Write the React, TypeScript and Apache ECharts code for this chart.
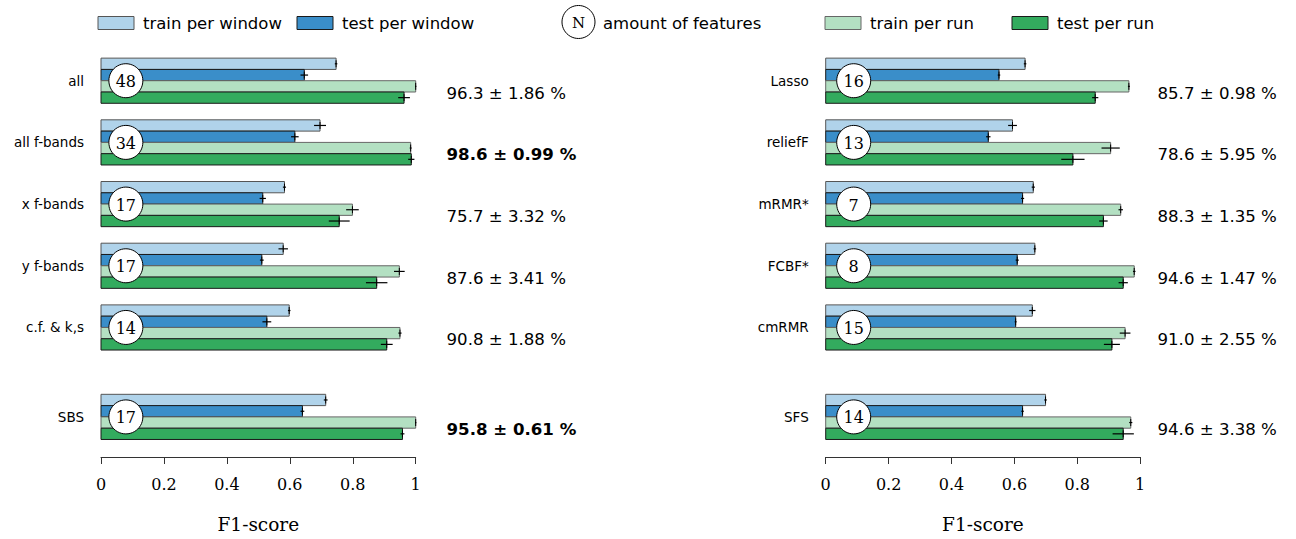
import React, { useEffect, useRef } from "react";
import * as echarts from "echarts";

// ---------- data ----------
const LEFT_CATS = ["all", "all f-bands", "x f-bands", "y f-bands", "c.f. & k,s", "SBS"];
const LEFT_POS = [0, 1, 2, 3, 4, 5.45];
const LEFT_TRAIN_WIN = [0.747, 0.696, 0.583, 0.579, 0.598, 0.714];
const LEFT_TRAIN_WIN_ERR = [0.004, 0.019, 0.005, 0.015, 0.004, 0.006];
const LEFT_TEST_WIN = [0.646, 0.616, 0.514, 0.511, 0.527, 0.64];
const LEFT_TEST_WIN_ERR = [0.012, 0.012, 0.01, 0.006, 0.014, 0.006];
const LEFT_TRAIN_RUN = [1.0, 0.984, 0.799, 0.948, 0.95, 1.0];
const LEFT_TRAIN_RUN_ERR = [0.002, 0.003, 0.02, 0.017, 0.005, 0.002];
const LEFT_TEST_RUN = [0.963, 0.986, 0.757, 0.876, 0.908, 0.958];
const LEFT_TEST_RUN_ERR = [0.0186, 0.0099, 0.0332, 0.0341, 0.0188, 0.0061];
const LEFT_FEATURES = [48, 34, 17, 17, 14, 17];
const LEFT_SCORES = ["96.3 ± 1.86 %", "98.6 ± 0.99 %", "75.7 ± 3.32 %", "87.6 ± 3.41 %", "90.8 ± 1.88 %", "95.8 ± 0.61 %"];
const LEFT_BOLD = [false, true, false, false, false, true];

const RIGHT_CATS = ["Lasso", "reliefF", "mRMR*", "FCBF*", "cmRMR", "SFS"];
const RIGHT_POS = [0, 1, 2, 3, 4, 5.45];
const RIGHT_TRAIN_WIN = [0.634, 0.594, 0.66, 0.665, 0.657, 0.699];
const RIGHT_TRAIN_WIN_ERR = [0.004, 0.014, 0.005, 0.004, 0.01, 0.004];
const RIGHT_TEST_WIN = [0.551, 0.517, 0.626, 0.609, 0.604, 0.626];
const RIGHT_TEST_WIN_ERR = [0.004, 0.007, 0.005, 0.005, 0.003, 0.004];
const RIGHT_TRAIN_RUN = [0.964, 0.906, 0.938, 0.981, 0.952, 0.97];
const RIGHT_TRAIN_RUN_ERR = [0.003, 0.029, 0.007, 0.004, 0.017, 0.005];
const RIGHT_TEST_RUN = [0.857, 0.786, 0.883, 0.946, 0.91, 0.946];
const RIGHT_TEST_RUN_ERR = [0.0098, 0.037, 0.0135, 0.0147, 0.0255, 0.0338];
const RIGHT_FEATURES = [16, 13, 7, 8, 15, 14];
const RIGHT_SCORES = ["85.7 ± 0.98 %", "78.6 ± 5.95 %", "88.3 ± 1.35 %", "94.6 ± 1.47 %", "91.0 ± 2.55 %", "94.6 ± 3.38 %"];
const RIGHT_BOLD = [false, false, false, false, false, false];

const LEGEND_NAMES = ["train per window", "test per window", "amount of features", "train per run", "test per run"];
const X_TICKS = [0, 0.2, 0.4, 0.6, 0.8, 1];

// ---------- styles ----------
const FILLS = ["#b0d3ea", "#3a8ec9", "#b3e0c2", "#33ab5e"];
const STROKES = ["#555555", "#1a1a1a", "#666666", "#1a1a1a"];
const SANS = "DejaVu Sans";
const SERIF = "DejaVu Serif";
const BAR_UNITS = 0.183;

function buildData(pos, tw, twe, ts, tse, tr, tre, te, tee) {
  return pos.map((p, i) => [p, tw[i], twe[i], ts[i], tse[i], tr[i], tre[i], te[i], tee[i]]);
}

function makeRender(cats, feats, scores, bold, circleX, scoreX) {
  return (params, api) => {
    const i = params.dataIndex;
    const pos = api.value(0);
    const vals = [api.value(1), api.value(3), api.value(5), api.value(7)];
    const errs = [api.value(2), api.value(4), api.value(6), api.value(8)];
    const origin = api.coord([0, pos]);
    const unit = api.size([0, 1])[1];
    const bh = unit * BAR_UNITS;
    const children = [];
    for (let k = 0; k < 4; k++) {
      const yc = origin[1] + (k - 1.5) * bh;
      const end = api.coord([vals[k], pos])[0];
      children.push({
        type: "rect",
        shape: { x: origin[0], y: yc - bh / 2, width: end - origin[0], height: bh },
        style: { fill: FILLS[k], stroke: STROKES[k], lineWidth: 1 },
      });
    }
    for (let k = 0; k < 4; k++) {
      const yc = origin[1] + (k - 1.5) * bh;
      const end = api.coord([vals[k], pos])[0];
      const a = api.coord([vals[k] - errs[k], pos])[0];
      const b = api.coord([vals[k] + errs[k], pos])[0];
      children.push({
        type: "line",
        shape: { x1: a, y1: yc, x2: b, y2: yc },
        style: { stroke: "#000", lineWidth: 1.2 },
      });
      children.push({
        type: "line",
        shape: { x1: end, y1: yc - 3.5, x2: end, y2: yc + 3.5 },
        style: { stroke: "#000", lineWidth: 1 },
      });
    }
    const cx = api.coord([circleX, pos])[0];
    children.push({
      type: "circle",
      shape: { cx: cx, cy: origin[1], r: 17 },
      style: { fill: "#fff", stroke: "#000", lineWidth: 1 },
    });
    children.push({
      type: "text",
      x: cx,
      y: origin[1] + 1,
      style: {
        text: String(feats[i]),
        align: "center",
        verticalAlign: "middle",
        fontFamily: SERIF,
        fontSize: 16,
        fill: "#000",
      },
    });
    children.push({
      type: "text",
      x: origin[0] - 17,
      y: origin[1],
      style: {
        text: cats[i],
        align: "right",
        verticalAlign: "middle",
        fontFamily: SANS,
        fontSize: 13.5,
        fill: "#000",
      },
    });
    children.push({
      type: "text",
      x: api.coord([scoreX, pos])[0],
      y: origin[1] + 0.2 * unit,
      style: {
        text: scores[i],
        align: "left",
        verticalAlign: "middle",
        fontFamily: SANS,
        fontSize: 16.6,
        fontWeight: bold[i] ? "bold" : "normal",
        fill: "#000",
      },
    });
    return { type: "group", children };
  };
}

function xAxisCfg(gridIndex) {
  return {
    type: "value",
    gridIndex,
    min: 0,
    max: 1,
    interval: 0.2,
    axisLine: { show: true, onZero: false, lineStyle: { color: "#333", width: 1 } },
    axisTick: { show: true, length: 7, lineStyle: { color: "#333" } },
    splitLine: { show: false },
    axisLabel: {
      fontFamily: SERIF,
      fontSize: 16,
      color: "#000",
      margin: 19,
      formatter: (v) => String(X_TICKS.find((t) => Math.abs(t - v) < 1e-9) ?? v),
    },
    name: "F1-score",
    nameLocation: "middle",
    nameGap: 58,
    nameTextStyle: { fontFamily: SERIF, fontSize: 18.5, color: "#000" },
  };
}

function yAxisCfg(gridIndex) {
  return { type: "value", gridIndex, inverse: true, min: -0.6, max: 6.1, show: false };
}

function legendGraphics() {
  const items = [];
  const sw = [
    { x: 98, fill: FILLS[0], stroke: STROKES[0], name: LEGEND_NAMES[0] },
    { x: 297, fill: FILLS[1], stroke: STROKES[1], name: LEGEND_NAMES[1] },
    { x: 825, fill: FILLS[2], stroke: STROKES[2], name: LEGEND_NAMES[3] },
    { x: 1012, fill: FILLS[3], stroke: STROKES[3], name: LEGEND_NAMES[4] },
  ];
  sw.forEach((s) => {
    items.push({
      type: "rect",
      shape: { x: s.x, y: 16.5, width: 36, height: 13 },
      style: { fill: s.fill, stroke: s.stroke, lineWidth: 1 },
    });
    items.push({
      type: "text",
      x: s.x + 45,
      y: 23,
      style: { text: s.name, fontFamily: SANS, fontSize: 16.5, fill: "#000", verticalAlign: "middle", align: "left" },
    });
  });
  items.push({
    type: "circle",
    shape: { cx: 578.5, cy: 22, r: 16.5 },
    style: { fill: "#fff", stroke: "#000", lineWidth: 1 },
  });
  items.push({
    type: "text",
    x: 578.5,
    y: 23,
    style: { text: "N", fontFamily: SERIF, fontSize: 15, fill: "#000", align: "center", verticalAlign: "middle" },
  });
  items.push({
    type: "text",
    x: 603,
    y: 23,
    style: { text: LEGEND_NAMES[2], fontFamily: SANS, fontSize: 16.5, fill: "#000", verticalAlign: "middle", align: "left" },
  });
  return items;
}

export default function App() {
  const ref = useRef(null);
  useEffect(() => {
    if (!ref.current) return;
    const chart = echarts.init(ref.current, null, { renderer: "svg" });
    chart.setOption({
      animation: false,
      backgroundColor: "#fff",
      grid: [
        { left: 101, width: 314.7, top: 43.7, bottom: 81.3 },
        { left: 825.7, width: 314.5, top: 43.7, bottom: 81.3 },
      ],
      xAxis: [xAxisCfg(0), xAxisCfg(1)],
      yAxis: [yAxisCfg(0), yAxisCfg(1)],
      series: [
        {
          type: "custom",
          xAxisIndex: 0,
          yAxisIndex: 0,
          clip: false,
          encode: { x: [1, 3, 5, 7], y: 0 },
          data: buildData(LEFT_POS, LEFT_TRAIN_WIN, LEFT_TRAIN_WIN_ERR, LEFT_TEST_WIN, LEFT_TEST_WIN_ERR, LEFT_TRAIN_RUN, LEFT_TRAIN_RUN_ERR, LEFT_TEST_RUN, LEFT_TEST_RUN_ERR),
          renderItem: makeRender(LEFT_CATS, LEFT_FEATURES, LEFT_SCORES, LEFT_BOLD, 0.079, 1.098),
        },
        {
          type: "custom",
          xAxisIndex: 1,
          yAxisIndex: 1,
          clip: false,
          encode: { x: [1, 3, 5, 7], y: 0 },
          data: buildData(RIGHT_POS, RIGHT_TRAIN_WIN, RIGHT_TRAIN_WIN_ERR, RIGHT_TEST_WIN, RIGHT_TEST_WIN_ERR, RIGHT_TRAIN_RUN, RIGHT_TRAIN_RUN_ERR, RIGHT_TEST_RUN, RIGHT_TEST_RUN_ERR),
          renderItem: makeRender(RIGHT_CATS, RIGHT_FEATURES, RIGHT_SCORES, RIGHT_BOLD, 0.089, 1.055),
        },
      ],
      graphic: legendGraphics(),
    });
    return () => chart.dispose();
  }, []);
  return (
    <div
      ref={ref}
      style={{ position: "fixed", left: 0, top: 0, width: 1296, height: 539, background: "#fff" }}
    />
  );
}
